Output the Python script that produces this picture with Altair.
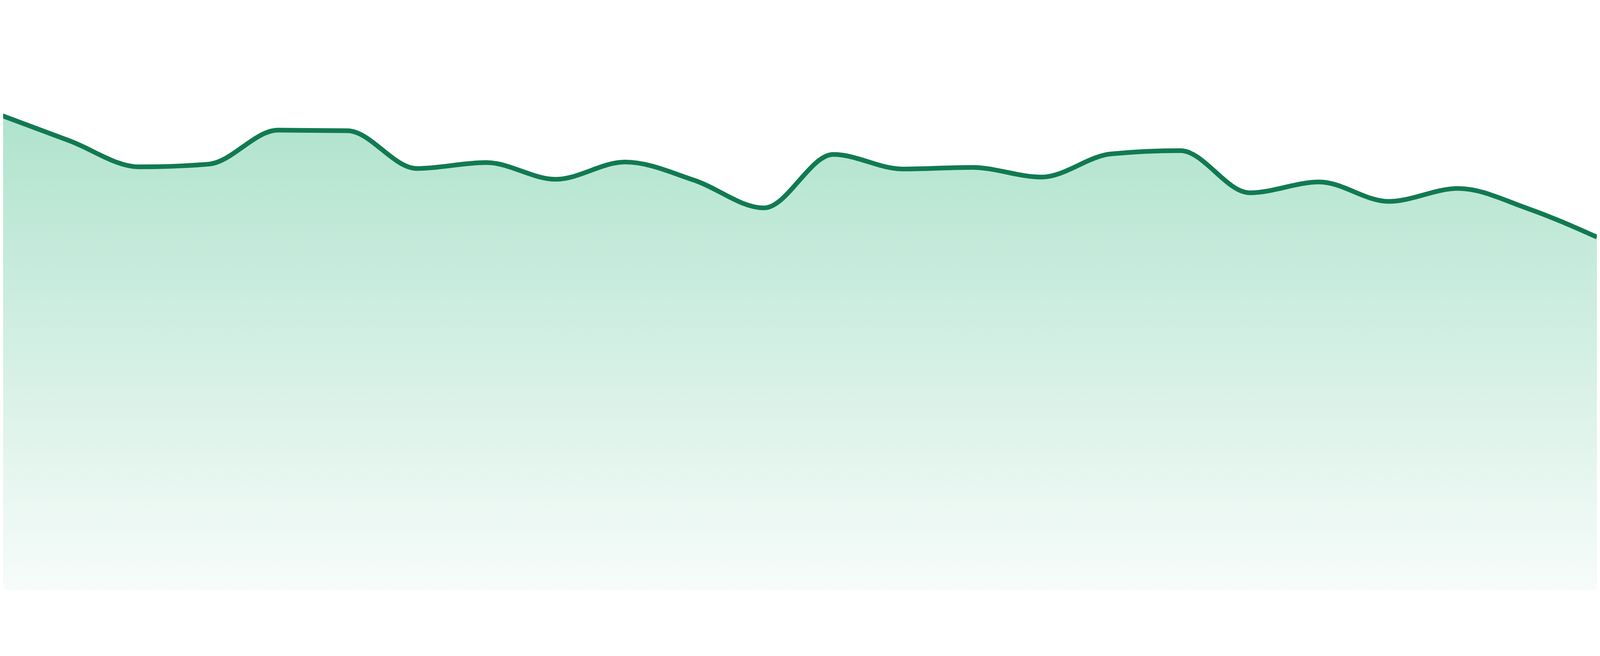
import altair as alt
import pandas as pd

# Series (index of each point, value on a 0-100 scale)
days = list(range(1, 25))
values = [88.0, 83.2, 78.4, 78.9, 85.2, 85.1, 78.1, 79.2, 76.1, 79.3, 75.9, 70.8,
          80.7, 78.0, 78.3, 76.5, 80.8, 81.4, 73.6, 75.6, 72.0, 74.4, 70.7, 65.4]

df = pd.DataFrame({"day": days, "value": values})

x_enc = alt.X("day:Q", axis=None,
              scale=alt.Scale(domain=[1.0383, 24], nice=False, zero=False))
y_enc = alt.Y("value:Q", axis=None,
              scale=alt.Scale(domain=[0, 100], nice=False, zero=True))

gradient = alt.Gradient(
    gradient="linear",
    stops=[alt.GradientStop(color="#b0e3ce", offset=0),
           alt.GradientStop(color="#f7fcfa", offset=1)],
    x1=1, x2=1, y1=0, y2=1,
)

area = alt.Chart(df).mark_area(
    interpolate="monotone", color=gradient, clip=True
).encode(x=x_enc, y=y_enc)

line = alt.Chart(df).mark_line(
    interpolate="monotone", color="#117a52", strokeWidth=14, clip=True
).encode(x=x_enc, y=y_enc)

chart = alt.layer(area, line).properties(
    width=4792, height=1624, padding=0
).configure_view(stroke=None)

chart.save("out.html", embed_options={"renderer": "svg", "actions": False})
